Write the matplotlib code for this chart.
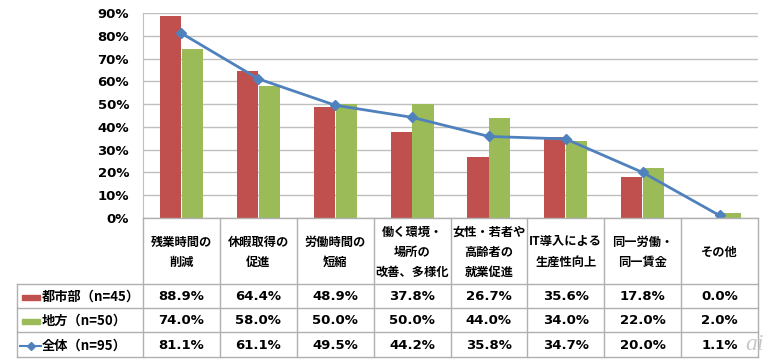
import numpy as np
import matplotlib.pyplot as plt
from matplotlib.patches import Rectangle
from matplotlib.lines import Line2D

plt.rcParams['font.family'] = ['DejaVu Sans', 'Noto Sans CJK JP']

categories = ['残業時間の\n削減', '休暇取得の\n促進', '労働時間の\n短縮', '働く環境・\n場所の\n改善、多様化',
              '女性・若者や\n高齢者の\n就業促進', 'IT導入による\n生産性向上', '同一労働・\n同一賃金', 'その他']
series_names = ['都市部（n=45）', '地方（n=50）', '全体（n=95）']
urban = [88.9, 64.4, 48.9, 37.8, 26.7, 35.6, 17.8, 0.0]
rural = [74.0, 58.0, 50.0, 50.0, 44.0, 34.0, 22.0, 2.0]
total = [81.1, 61.1, 49.5, 44.2, 35.8, 34.7, 20.0, 1.1]
yticks = [0, 10, 20, 30, 40, 50, 60, 70, 80, 90]

RED = '#C0504D'
GREEN = '#9BBB59'
BLUE = '#4F81BD'
GRID = '#BFBFBF'
CJK = ['Noto Sans CJK JP', 'DejaVu Sans']

W, H = 770, 362
fig = plt.figure(figsize=(W / 100, H / 100), dpi=100)

# chart area in pixels
x0, x1, ytop, ybot = 143, 758, 13, 218
ax = fig.add_axes([x0 / W, 1 - ybot / H, (x1 - x0) / W, (ybot - ytop) / H])
x = np.arange(len(categories))
bw = 0.275
ax.bar(x - bw / 2 - 0.005, urban, bw, color=RED, zorder=2)
ax.bar(x + bw / 2 + 0.005, rural, bw, color=GREEN, zorder=2)
ax.plot(x, total, color=BLUE, lw=2, marker='D', markersize=5, zorder=3)
ax.set_xlim(-0.5, len(categories) - 0.5)
ax.set_ylim(0, 90)
ax.set_yticks(yticks)
ax.set_yticklabels([f'{v}%' for v in yticks], fontsize=9.5, fontweight='bold')
ax.set_xticks([])
ax.grid(axis='y', color=GRID, lw=1, zorder=0)
for s in ['top', 'right', 'bottom']:
    ax.spines[s].set_visible(False)
ax.spines['left'].set_color(GRID)
ax.tick_params(axis='y', length=0, pad=10)

# table below
cw = (x1 - x0) / len(categories)
tl, tb = 17, 357
tax = fig.add_axes([tl / W, 1 - tb / H, (x1 - tl) / W, (tb - ybot) / H])
tax.set_xlim(-0.5 - (x0 - tl) / cw, len(categories) - 0.5)
tax.set_ylim(tb, ybot)
tax.axis('off')

def px(p):
    return -0.5 + (p - x0) / cw

left = px(tl)
right = len(categories) - 0.5
rows = [284, 308, 332, 357]
lc = '#B0B0B0'
tax.plot([-0.5, right], [ybot, ybot], color=lc, lw=1, clip_on=False)
for r in rows:
    tax.plot([left, right], [r, r], color=lc, lw=1, clip_on=False)
for i in range(len(categories) + 1):
    tax.plot([i - 0.5, i - 0.5], [ybot, tb], color=lc, lw=1, clip_on=False)
tax.plot([left, left], [rows[0], tb], color=lc, lw=1, clip_on=False)

for i, c in enumerate(categories):
    tax.text(i, (ybot + rows[0]) / 2 + 1, c, ha='center', va='center', fontsize=8.8,
             fontweight='bold', family=CJK, linespacing=1.7)

values = [urban, rural, total]
for k, vals in enumerate(values):
    yc = (rows[k] + rows[k + 1]) / 2 + 1
    for i, v in enumerate(vals):
        tax.text(i, yc, f'{v:.1f}%', ha='center', va='center', fontsize=9.5, fontweight='bold')
    tax.text(px(42), yc, series_names[k], ha='left', va='center', fontsize=9.5,
             fontweight='bold', family=CJK)

# legend keys
for k, col in enumerate([RED, GREEN]):
    yc = (rows[k] + rows[k + 1]) / 2 + 1
    tax.add_patch(Rectangle((px(22), yc - 2.5), px(40) - px(22), 5, color=col, clip_on=False))
yc = (rows[2] + rows[3]) / 2 + 1
tax.add_line(Line2D([px(20), px(41)], [yc, yc], color=BLUE, lw=1.5))
tax.plot([px(30.5)], [yc], marker='D', color=BLUE, markersize=4)

fig.text(755 / W, 1 - 345 / H, 'ai', fontsize=17, style='italic', color='#C8C8C8',
         ha='center', va='center', family='Liberation Serif')

fig.savefig('out.png', dpi=100)
